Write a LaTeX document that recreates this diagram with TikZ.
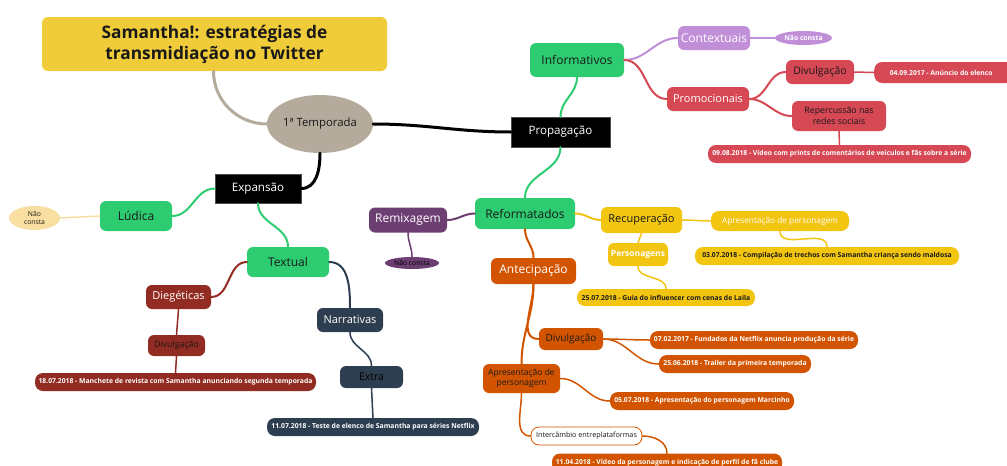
\documentclass[tikz,border=0pt]{standalone}
\usepackage{fontspec}
\setmainfont{Open Sans}
\usetikzlibrary{shapes.geometric}
\definecolor{cgreen}{RGB}{46,204,113}
\definecolor{clpurple}{RGB}{192,143,216}
\definecolor{cred}{RGB}{214,72,84}
\definecolor{cdpurple}{RGB}{108,62,114}
\definecolor{cyellow}{RGB}{242,197,17}
\definecolor{corange}{RGB}{211,84,0}
\definecolor{cdred}{RGB}{146,43,33}
\definecolor{cdblue}{RGB}{44,62,80}
\definecolor{clyellow}{RGB}{248,222,160}
\definecolor{ctitle}{RGB}{240,203,58}
\definecolor{cbeige}{RGB}{181,171,156}
\definecolor{cdark}{RGB}{25,25,25}
\tikzset{
  box/.style={draw=none, rounded corners=6pt, inner sep=0pt, align=center},
  leaf/.style={box, rounded corners=8pt, font=\fontsize{6.8}{8}\selectfont\bfseries, text=white},
  blk/.style={fill=black, draw=black!70, inner sep=0pt, text=white, font=\fontsize{11.6}{14}\selectfont},
  mid/.style={font=\fontsize{12}{14}\selectfont},
  sml/.style={font=\fontsize{8.8}{11}\selectfont},
  conn/.style={line width=2pt, line cap=round},
  thin/.style={line width=1.5pt, line cap=round},
}
\begin{document}
\begin{tikzpicture}[x=1pt,y=-1pt]
\useasboundingbox (0,0) rectangle (1007,466);
% ---------------- nodes ----------------
\node[box, fill=ctitle, minimum width=345pt, minimum height=54pt, font=\fontsize{17.3}{21}\selectfont\bfseries, text=cdark] (title) at (214.5,44) {Samantha!: estratégias de\\transmidiação no Twitter};
\node[ellipse, fill=cbeige, minimum width=106pt, minimum height=58pt, inner sep=0pt, font=\fontsize{11.4}{13}\selectfont, text=cdark] (temp) at (320,124) {1ª Temporada};
\node[blk, minimum width=99pt, minimum height=30pt] (prop) at (560.5,132) {Propagação};
\node[blk, minimum width=86pt, minimum height=29pt] (exp) at (258,188.5) {Expansão};
% Propagacao branch
\node[box, mid, fill=cgreen, text=cdark, minimum width=94pt, minimum height=34pt] (info) at (577,60) {Informativos};
\node[box, mid, fill=clpurple, text=white, minimum width=72pt, minimum height=24pt] (ctx) at (714,38) {Contextuais};
\node[ellipse, fill=clpurple, text=white, minimum width=57pt, minimum height=14pt, inner sep=0pt, font=\fontsize{6.8}{7}\selectfont\bfseries] (nc1) at (803.5,38) {Não consta};
\node[box, fill=cred, text=white, minimum width=82pt, minimum height=24pt, font=\fontsize{11}{13}\selectfont] (promo) at (708,99) {Promocionais};
\node[box, fill=cred, text=cdark, minimum width=68pt, minimum height=24pt, font=\fontsize{10.5}{13}\selectfont] (div1) at (820,72) {Divulgação};
\node[leaf, fill=cred, minimum width=140pt, minimum height=21pt, anchor=west] (d0409) at (874,72.5) {\hspace*{-6pt}04.09.2017 - Anúncio do elenco};
\node[box, sml, fill=cred, text=cdark, minimum width=94pt, minimum height=30pt] (rep) at (839,116) {Repercussão nas\\redes sociais};
\node[leaf, fill=cred, minimum width=263pt, minimum height=18pt] (d0908) at (839.5,154) {09.08.2018 - Vídeo com prints de comentários de veículos e fãs sobre a série};
% Reformatados branch
\node[box, mid, fill=cgreen, text=cdark, minimum width=100pt, minimum height=31pt] (ref) at (525,213.5) {Reformatados};
\node[box, mid, fill=cdpurple, text=white, minimum width=78pt, minimum height=25pt] (remix) at (408,220) {Remixagem};
\node[ellipse, fill=cdpurple, text=black, minimum width=54pt, minimum height=12pt, inner sep=0pt, font=\fontsize{6.8}{7}\selectfont] (nc2) at (412,263) {Não consta};
\node[box, fill=cyellow, text=cdark, minimum width=81pt, minimum height=26pt, font=\fontsize{11}{13}\selectfont] (recup) at (641.5,220) {Recuperação};
\node[box, fill=cyellow, text=white, minimum width=138pt, minimum height=20pt, rounded corners=8pt, font=\fontsize{8.3}{10}\selectfont] (apy) at (780,221) {Apresentação de personagem};
\node[leaf, fill=cyellow, text=cdark, minimum width=264pt, minimum height=18pt] (d0307) at (827,256) {03.07.2018 - Compilação de trechos com Samantha criança sendo maldosa};
\node[box, fill=cyellow, text=white, minimum width=60pt, minimum height=23pt, font=\fontsize{8.5}{11}\selectfont\bfseries] (pers) at (638,254.5) {Personagens};
\node[leaf, fill=cyellow, text=cdark, minimum width=178pt, minimum height=17pt] (d2507) at (666,297.5) {25.07.2018 - Guia do influencer com cenas de Laila};
\node[box, mid, fill=corange, text=white, minimum width=85pt, minimum height=26pt] (antec) at (533.5,271) {Antecipação};
\node[box, fill=corange, text=cdark, minimum width=64pt, minimum height=22pt, font=\fontsize{10}{12}\selectfont] (div2) at (571,339) {Divulgação};
\node[leaf, fill=corange, minimum width=208pt, minimum height=18pt] (d0702) at (754,340) {07.02.2017 - Fundados da Netflix anuncia produção da série};
\node[leaf, fill=corange, minimum width=152pt, minimum height=18pt] (d2506) at (735,364) {25.06.2018 - Trailer da primeira temporada};
\node[box, fill=corange, text=cdark, minimum width=77pt, minimum height=29pt, font=\fontsize{8.5}{10.5}\selectfont] (apo) at (521.5,378.5) {Apresentação de\\personagem};
\node[leaf, fill=corange, minimum width=184pt, minimum height=18pt] (d0507) at (702,401) {05.07.2018 - Apresentação do personagem Marcinho};
\node[box, fill=white, draw=corange, line width=0.8pt, rounded corners=8pt, text=cdark, minimum width=111pt, minimum height=18pt, font=\fontsize{7.2}{9}\selectfont] (inter) at (586.5,436) {Intercâmbio entreplataformas};
\node[leaf, fill=corange, minimum width=230pt, minimum height=19pt] (d1104) at (667,463) {11.04.2018 - Vídeo da personagem e indicação de perfil de fã clube};
% Expansao branch
\node[box, mid, fill=cgreen, text=cdark, minimum width=72pt, minimum height=30pt] (lud) at (136,216) {Lúdica};
\node[ellipse, fill=clyellow, text=cdark, minimum width=51pt, minimum height=24pt, inner sep=0pt, font=\fontsize{6.8}{8}\selectfont, align=center] (nc3) at (34.5,218) {Não\\consta};
\node[box, mid, fill=cgreen, text=cdark, minimum width=82pt, minimum height=30pt] (text) at (288,262) {Textual};
\node[box, fill=cdred, text=white, minimum width=65pt, minimum height=24pt, font=\fontsize{11}{13}\selectfont] (dieg) at (178.5,297) {Diegéticas};
\node[box, sml, fill=cdred, text=cdark, minimum width=57pt, minimum height=21pt] (div3) at (176.5,345.5) {Divulgação};
\node[leaf, fill=cdred, minimum width=281pt, minimum height=18pt] (d1807) at (175.5,382) {18.07.2018 - Manchete de revista com Samantha anunciando segunda temporada};
\node[box, fill=cdblue, text=white, minimum width=66pt, minimum height=24pt, font=\fontsize{11}{13}\selectfont] (narr) at (350,320) {Narrativas};
\node[box, fill=cdblue, text=black, minimum width=63pt, minimum height=22pt, font=\fontsize{10.5}{12}\selectfont] (extra) at (371.5,377) {Extra};
\node[leaf, fill=cdblue, minimum width=212pt, minimum height=18pt] (d1107) at (373,427) {11.07.2018 - Teste de elenco de Samantha para séries Netflix};
% ---------------- connectors ----------------
\coordinate (ts) at ([xshift=-1pt]title.south);
\draw[conn, cbeige, line width=3pt] (ts) to[out=-90,in=180] (temp.west);
\draw[conn, black, line width=3pt] (temp.east) to[out=0,in=180] (prop.west);
\draw[conn, black, line width=3pt] (temp.south) to[out=-90,in=0] (exp.east);
\draw[conn, cgreen] (prop.north) to[out=90,in=-90] (info.south);
\draw[conn, cgreen] (prop.south) to[out=-90,in=90] (ref.north);
\draw[conn, clpurple] (info.east) to[out=0,in=180] (ctx.west);
\draw[thin, clpurple] (ctx.east) -- (nc1.west);
\draw[conn, cred] (info.east) to[out=0,in=180] (promo.west);
\draw[conn, cred] (promo.east) to[out=0,in=180] (div1.west);
\draw[conn, cred] (promo.east) to[out=0,in=180] (rep.west);
\draw[thin, cred] (div1.east) -- (d0409.west);
\draw[thin, cred] (rep.south) -- (d0908.north);
\draw[conn, cdpurple] (ref.west) to[out=180,in=0] (remix.east);
\draw[thin, cdpurple] (remix.south) to[out=-90,in=90] (nc2.north);
\draw[conn, cyellow] (ref.east) to[out=0,in=180] (recup.west);
\draw[thin, cyellow] (recup.east) to[out=0,in=180] (apy.west);
\draw[thin, cyellow] (apy.south) to[out=-90,in=90] (d0307.north);
\draw[thin, cyellow] (recup.south) -- (pers.north);
\draw[thin, cyellow] (pers.south) to[out=-90,in=90] (d2507.north);
\draw[conn, corange] (ref.south) to[out=-90,in=90] (antec.north);
\draw[conn, corange] (antec.south) to[out=-90,in=180] (div2.west);
\draw[conn, corange] (antec.south) to[out=-90,in=90] (apo.north);
\draw[thin, corange] (div2.east) to[out=0,in=180] (d0702.west);
\draw[thin, corange] (div2.east) to[out=0,in=180] (d2506.west);
\draw[thin, corange] (apo.east) to[out=0,in=180] (d0507.west);
\draw[thin, corange] (apo.south) to[out=-90,in=180] (inter.west);
\draw[thin, corange] (inter.east) to[out=0,in=90] (d1104.north);
\draw[conn, cgreen] (exp.west) to[out=180,in=0] (lud.east);
\draw[thin, clyellow] (lud.west) -- (nc3.east);
\draw[conn, cgreen] (exp.south) to[out=-90,in=90] (text.north);
\draw[conn, cdred] (text.west) to[out=180,in=0] (dieg.east);
\draw[thin, cdred] (dieg.south) -- (div3.north);
\draw[thin, cdred] (div3.south) -- (d1807.north);
\draw[conn, cdblue] (text.east) to[out=0,in=90] (narr.north);
\draw[thin, cdblue] (narr.south) to[out=-90,in=90] (extra.north);
\draw[thin, cdblue] (extra.south) -- (d1107.north);
\end{tikzpicture}
\end{document}
